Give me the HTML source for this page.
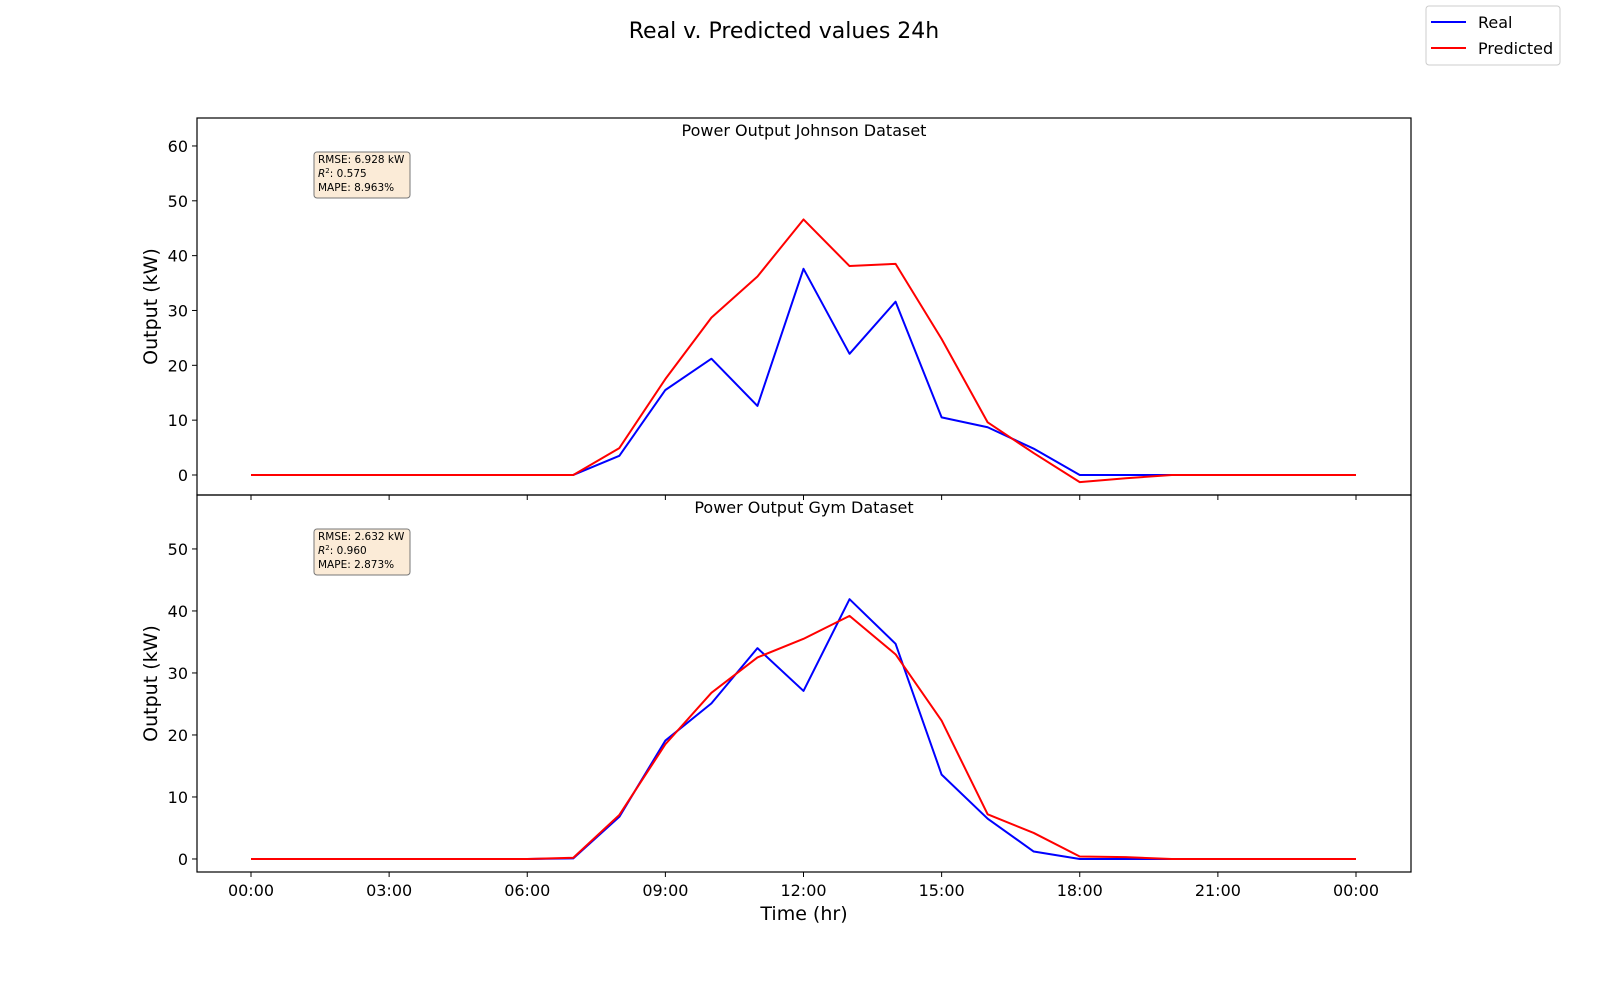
<!DOCTYPE html>
<html><head><meta charset="utf-8"><style>
html,body{margin:0;padding:0;background:#fff;overflow:hidden;width:1600px;height:1000px;}
svg{display:block;font-family:"DejaVu Sans","Liberation Sans",sans-serif;}
</style></head><body>
<svg id="c" width="1600" height="1000" viewBox="0 0 1600 1000">
<text x="784" y="38" text-anchor="middle" font-size="22">Real v. Predicted values 24h</text>
<g>
<rect x="1426" y="6" width="134" height="59" rx="3" fill="#fff" stroke="#ccc"/>
<line x1="1431" y1="22" x2="1466" y2="22" stroke="blue" stroke-width="2"/>
<text x="1478" y="28" font-size="16">Real</text>
<line x1="1431" y1="48" x2="1466" y2="48" stroke="red" stroke-width="2"/>
<text x="1478" y="54" font-size="16">Predicted</text>
</g>
<g id="plots"></g>
</svg>
<script>
const hours=[0,1,2,3,4,5,6,7,8,9,10,11,12,13,14,15,16,17,18,19,20,21,22,23,24];
const johnsonReal=[0,0,0,0,0,0,0,0,3.5,15.5,21.2,12.6,37.6,22.1,31.6,10.5,8.7,4.8,0,0,0,0,0,0,0];
const johnsonPred=[0,0,0,0,0,0,0,0,4.9,17.5,28.7,36.2,46.6,38.1,38.5,24.8,9.6,4.0,-1.3,-0.6,0,0,0,0,0];
const gymReal=[0,0,0,0,0,0,0,0.1,6.8,19.1,25.1,34.0,27.1,41.9,34.7,13.6,6.5,1.2,0,0,0,0,0,0,0];
const gymPred=[0,0,0,0,0,0,0,0.2,7.1,18.5,26.8,32.5,35.5,39.2,33.0,22.3,7.2,4.2,0.4,0.3,0,0,0,0,0];
const johnsonTicks=[0,10,20,30,40,50,60];
const gymTicks=[0,10,20,30,40,50];
const xTickHours=[0,3,6,9,12,15,18,21,24];
const xTickLabels=["00:00","03:00","06:00","09:00","12:00","15:00","18:00","21:00","00:00"];

const NS="http://www.w3.org/2000/svg";
const g=document.getElementById('plots');
function mk(t,a,p){const e=document.createElementNS(NS,t);for(const k in a)e.setAttribute(k,a[k]);(p||g).appendChild(e);return e;}
const X0=197,X1=1411;
const xs=h=>251+h*(1356-251)/24;

function panel(name,top,bot,ymin,ymax,ticks,real,pred,title,stats,showX){
  const grp=mk('g',{});
  
  
  const ys=v=>bot-(v-ymin)/(ymax-ymin)*(bot-top);
  ticks.forEach(t=>{
    const y=ys(t);
    mk('line',{x1:X0-5,x2:X0,y1:y,y2:y,stroke:'#000'},grp);
    const tx=mk('text',{x:X0-9,y:y+6,'text-anchor':'end','font-size':16},grp);
    tx.textContent=t;
    
    
  });
  xTickHours.forEach((h,i)=>{
    const x=xs(h);
    mk('line',{x1:x,x2:x,y1:bot,y2:bot+5,stroke:'#000'},grp);
    if(showX){const tx=mk('text',{x:x,y:bot+24,'text-anchor':'middle','font-size':16},grp);tx.textContent=xTickLabels[i];
      
      }
  });
  [[real,'blue','real-line'],[pred,'red','predicted-line']].forEach(([d,c,n])=>{
    const pl=mk('polyline',{points:d.map((v,i)=>xs(hours[i])+','+ys(v)).join(' '),fill:'none',stroke:c,'stroke-width':2,'stroke-linejoin':'round'},grp);
    
    
  });
  mk('rect',{x:X0,y:top,width:X1-X0,height:bot-top,fill:'none',stroke:'#000','stroke-width':1.2},grp);
  const tt=mk('text',{x:804,y:top+18,'text-anchor':'middle','font-size':16},grp);tt.textContent=title;
  
  
  const yl=mk('text',{x:0,y:0,'text-anchor':'middle','font-size':19,transform:`translate(157,${(top+bot)/2}) rotate(-90)`},grp);yl.textContent='Output (kW)';
  
  
  const bx=mk('g',{},grp);
  
  
  mk('rect',{x:314,y:top+34,width:96,height:46,rx:3,fill:'#fbebd7',stroke:'#777'},bx);
  stats.forEach((s,i)=>{const t=mk('text',{x:318,y:top+45+i*14,'font-size':10.5},bx);t.innerHTML=s;});
}
panel('johnson',118,495,-3.65,65.1,johnsonTicks,johnsonReal,johnsonPred,'Power Output Johnson Dataset',
 ['RMSE: 6.928 kW','<tspan font-style="italic">R</tspan><tspan font-size="7" dy="-4">2</tspan><tspan dy="4">: 0.575</tspan>','MAPE: 8.963%'],false);
panel('gym',495,872,-2.1,58.7,gymTicks,gymReal,gymPred,'Power Output Gym Dataset',
 ['RMSE: 2.632 kW','<tspan font-style="italic">R</tspan><tspan font-size="7" dy="-4">2</tspan><tspan dy="4">: 0.960</tspan>','MAPE: 2.873%'],true);
const xl=mk('text',{x:804,y:920,'text-anchor':'middle','font-size':19});xl.textContent='Time (hr)';


</script>
</body></html>
